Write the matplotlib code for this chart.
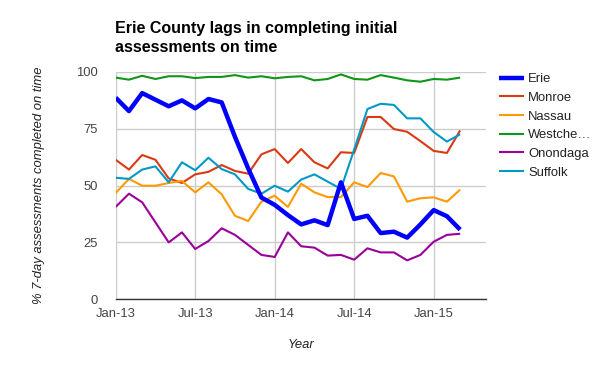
import matplotlib
matplotlib.use("Agg")
import matplotlib.pyplot as plt

plt.rcParams['font.family'] = ['Liberation Sans', 'DejaVu Sans']

months = list(range(27))
tick_pos = [0, 6, 12, 18, 24]
tick_labels = ['Jan-13', 'Jul-13', 'Jan-14', 'Jul-14', 'Jan-15']

erie = [88.6, 82.7, 90.6, 87.7, 84.8, 87.4, 83.9, 88.0, 86.5, 71.4, 57.5, 44.7, 41.5,
        37.0, 32.9, 34.7, 32.6, 51.4, 35.3, 36.7, 29.1, 29.7, 27.1, 32.9, 39.2, 36.5, 30.6]
monroe = [61.3, 57.0, 63.4, 61.3, 53.1, 51.1, 54.9, 56.0, 59.0, 56.4, 55.2, 63.7, 66.0,
          59.9, 66.0, 60.2, 57.5, 64.6, 64.3, 80.1, 80.1, 74.8, 73.6, 69.5, 65.2, 64.3, 74.2]
nassau = [46.7, 52.9, 49.9, 49.9, 51.1, 52.0, 47.0, 51.4, 46.1, 36.7, 34.4, 42.9, 45.5,
          40.6, 50.8, 47.0, 44.9, 44.9, 51.4, 49.3, 55.5, 54.0, 42.9, 44.4, 44.8, 42.9, 48.2]
westchester = [97.4, 96.5, 98.2, 96.8, 98.0, 98.0, 97.2, 97.7, 97.7, 98.5, 97.4, 98.0, 97.1,
               97.7, 98.0, 96.2, 96.8, 98.8, 96.8, 96.5, 98.5, 97.4, 96.2, 95.6, 96.8, 96.5, 97.4]
onondaga = [40.6, 46.4, 42.6, 33.8, 25.0, 29.4, 22.1, 25.6, 31.2, 28.3, 23.9, 19.5, 18.6,
            29.4, 23.3, 22.7, 19.2, 19.5, 17.4, 22.4, 20.6, 20.6, 17.1, 19.5, 25.3, 28.3, 28.8]
suffolk = [53.4, 52.9, 57.0, 58.4, 51.4, 60.2, 56.7, 62.2, 57.2, 54.9, 48.5, 46.4, 49.9,
           47.3, 52.6, 54.9, 51.7, 48.5, 65.8, 83.6, 85.9, 85.4, 79.5, 79.5, 73.5, 69.3, 72.5]

title_lines = ['Erie County lags in completing initial', 'assessments on time']

series = [
    ('Erie', erie, '#0000FF', 3.2, 10),
    ('Monroe', monroe, '#DC3912', 1.5, 3),
    ('Nassau', nassau, '#FF9900', 1.5, 3),
    ('Westche\u2026', westchester, '#109618', 1.5, 3),
    ('Onondaga', onondaga, '#990099', 1.5, 3),
    ('Suffolk', suffolk, '#0099C6', 1.5, 3),
]

fig = plt.figure(figsize=(6, 3.71), dpi=100)
ax = fig.add_axes([115.7 / 600, 1 - 299.3 / 371, (486 - 115.7) / 600, (299.3 - 71.7) / 371])

for name, vals, col, lw, z in series:
    ax.plot(months, vals, color=col, lw=lw, label=name, zorder=z,
            solid_joinstyle='round', solid_capstyle='butt')

ax.set_xlim(0, 27.95)
ax.set_ylim(0, 100)
ax.set_yticks([0, 25, 50, 75, 100])
ax.set_xticks(tick_pos)
ax.set_xticklabels(tick_labels)
ax.grid(True, color='#cccccc', lw=1.0, zorder=0)
ax.set_axisbelow(True)
for s in ['top', 'right', 'left']:
    ax.spines[s].set_visible(False)
ax.spines['bottom'].set_color('#333333')
ax.spines['bottom'].set_linewidth(1.0)
ax.spines['bottom'].set_zorder(20)
ax.tick_params(axis='both', length=0, labelsize=9.4, colors='#444444')
ax.tick_params(axis='y', pad=13)
ax.tick_params(axis='x', pad=6)

ax.set_ylabel('% 7-day assessments completed on time', fontsize=9.4,
              style='italic', color='#222222', labelpad=22)
ax.set_xlabel('Year', fontsize=9.4, style='italic', color='#222222', labelpad=14)

for k, line in enumerate(title_lines):
    fig.text(115 / 600, 1 - (33 + 19.5 * k) / 371, line,
             fontsize=11.5, fontweight='bold', color='#000000', ha='left', va='baseline')

handles, labels = ax.get_legend_handles_labels()
leg = fig.legend(handles, labels, loc='upper left', bbox_to_anchor=(494 / 600, 1 - 68 / 371),
                 frameon=False, fontsize=9.4, handlelength=1.9, handletextpad=0.3,
                 labelspacing=0.5, borderaxespad=0)
for t in leg.get_texts():
    t.set_color('#222222')

fig.savefig('out.png', dpi=100)
